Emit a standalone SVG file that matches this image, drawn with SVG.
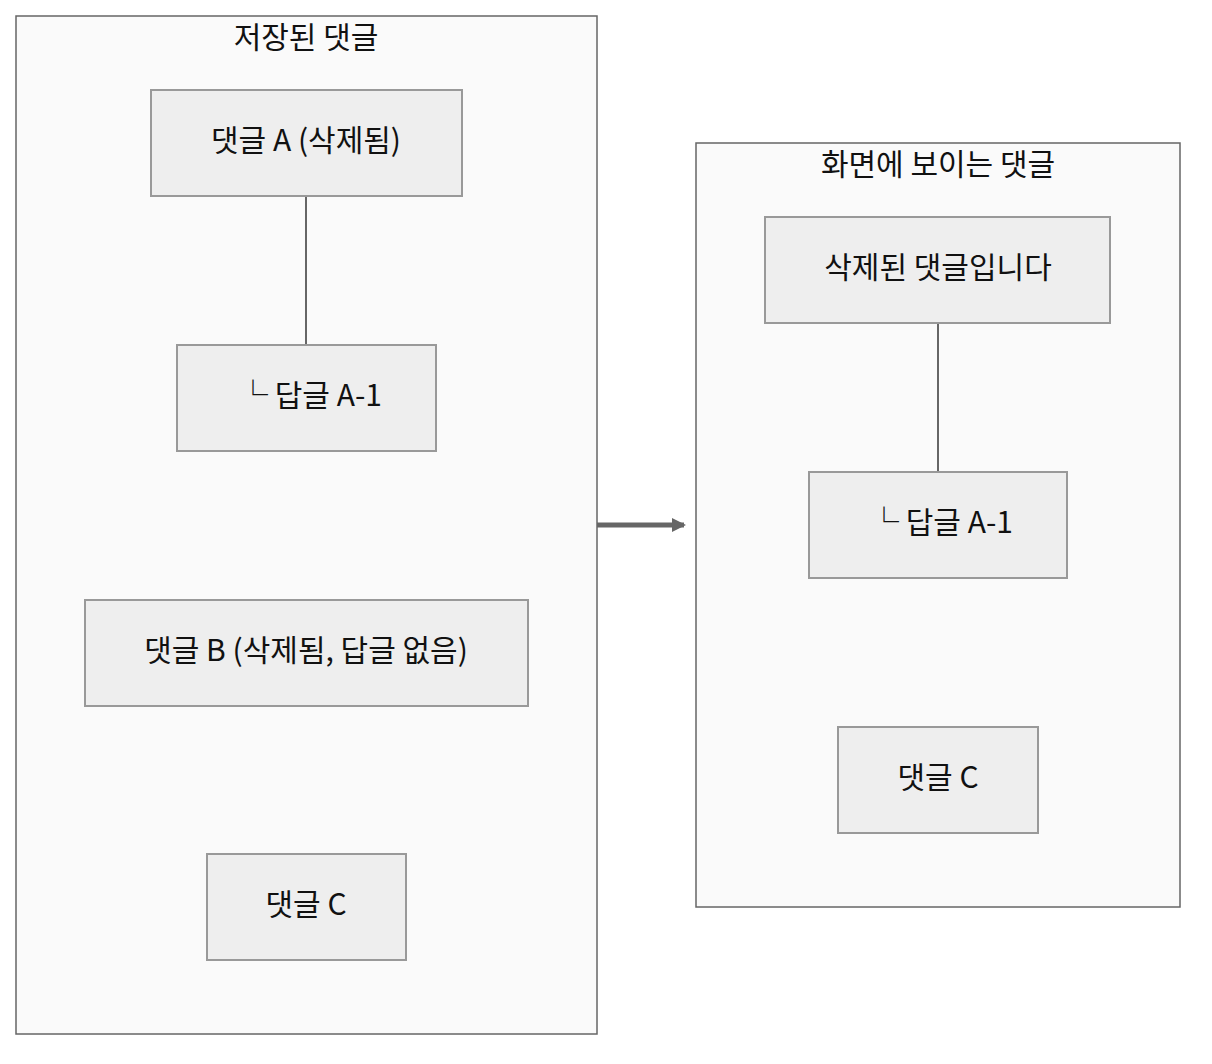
<svg xmlns="http://www.w3.org/2000/svg" width="1212" height="1064" viewBox="0 0 1212 1064">
<style>
.cl{fill:#fafafa;stroke:#666;stroke-width:1.5}
.n{fill:#eeeeee;stroke:#999;stroke-width:2}
text{font-family:"Noto Sans CJK KR","Noto Sans",sans-serif;font-size:30px;fill:#111;text-anchor:middle;dominant-baseline:central}
.e{stroke:#666;stroke-width:2;fill:none}
</style>
<defs><marker id="ar" markerWidth="14" markerHeight="14" refX="12" refY="7" orient="auto" markerUnits="userSpaceOnUse"><path d="M0,0 L14,7 L0,14 z" fill="#666"/></marker></defs>
<g id="stored"><rect class="cl" x="16" y="16" width="581" height="1018"/><text x="306" y="35">저장된 댓글</text></g>
<g id="shown"><rect class="cl" x="696" y="143" width="484" height="764"/><text x="938" y="162">화면에 보이는 댓글</text></g>
<g id="connectors">
<line class="e" x1="306" y1="196" x2="306" y2="345"/>
<line class="e" x1="938" y1="323" x2="938" y2="472"/>
<line x1="597" y1="525" x2="684" y2="525" stroke="#666" stroke-width="5" marker-end="url(#ar)"/>
</g>
<g id="a"><rect class="n" x="151" y="90" width="311" height="106"/><text x="306" y="138">댓글 A (삭제됨)</text></g>
<g id="a1"><rect class="n" x="177" y="345" width="259" height="106"/><text x="310" y="393">└ 답글 A-1</text></g>
<g id="b"><rect class="n" x="85" y="600" width="443" height="106"/><text x="306" y="648">댓글 B (삭제됨, 답글 없음)</text></g>
<g id="c"><rect class="n" x="207" y="854" width="199" height="106"/><text x="306" y="902">댓글 C</text></g>
<g id="ra"><rect class="n" x="765" y="217" width="345" height="106"/><text x="938" y="265">삭제된 댓글입니다</text></g>
<g id="ra1"><rect class="n" x="809" y="472" width="258" height="106"/><text x="941" y="520">└ 답글 A-1</text></g>
<g id="rc"><rect class="n" x="838" y="727" width="200" height="106"/><text x="938" y="775">댓글 C</text></g>
</svg>
